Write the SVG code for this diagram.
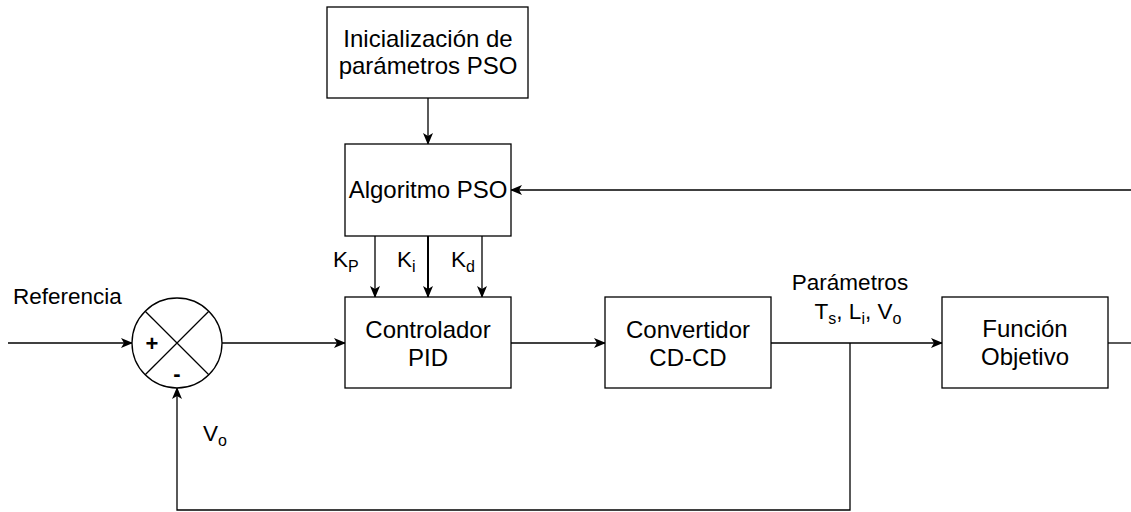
<svg xmlns="http://www.w3.org/2000/svg" width="1131" height="512" viewBox="0 0 1131 512">
<style>
.box{fill:#fff;stroke:#000;stroke-width:1.3}
.ln{fill:none;stroke:#000;stroke-width:1.3}
.t{font-family:"Liberation Sans",Arial,Helvetica,sans-serif;font-size:24px;fill:#000;text-anchor:middle}
.s{font-family:"Liberation Sans",Arial,Helvetica,sans-serif;font-size:22.5px;fill:#000}
.sub{font-size:16px}
</style>
<defs>
<marker id="arr" viewBox="0 0 12 10" refX="11" refY="5" markerWidth="12" markerHeight="10" markerUnits="userSpaceOnUse" orient="auto">
<path d="M0,0 L12,5 L0,10 L3,5 Z" fill="#000"/>
</marker>
</defs>
<rect width="1131" height="512" fill="#fff"/>
<g id="connectors">
<path class="ln" d="M428,98 L428,144" marker-end="url(#arr)"/>
<path class="ln" d="M375,236 L375,297" marker-end="url(#arr)"/>
<path class="ln" style="stroke-width:2" d="M428,236 L428,297" marker-end="url(#arr)"/>
<path class="ln" d="M482,236 L482,297" marker-end="url(#arr)"/>
<path class="ln" d="M8,343 L132,343" marker-end="url(#arr)"/>
<path class="ln" d="M222,343 L345,343" marker-end="url(#arr)"/>
<path class="ln" d="M511,343 L605,343" marker-end="url(#arr)"/>
<path class="ln" d="M771,343 L942,343" marker-end="url(#arr)"/>
<path class="ln" d="M850,343 L850,510 L177,510 L177,388" marker-end="url(#arr)"/>
<path class="ln" d="M1108,343 L1131,343"/>
<path class="ln" d="M1131,190 L511,190" marker-end="url(#arr)"/>
</g>
<g id="init">
<rect class="box" x="327" y="7" width="201" height="91"/>
<text class="t" x="428" y="47">Inicialización de</text>
<text class="t" x="428" y="74">parámetros PSO</text>
</g>
<g id="pso">
<rect class="box" x="345" y="144" width="166" height="92"/>
<text class="t" x="428" y="198">Algoritmo PSO</text>
</g>
<g id="pid">
<rect class="box" x="345" y="297" width="166" height="91"/>
<text class="t" x="428" y="338">Controlador</text>
<text class="t" x="428" y="366">PID</text>
</g>
<g id="conv">
<rect class="box" x="605" y="297" width="166" height="91"/>
<text class="t" x="688" y="338">Convertidor</text>
<text class="t" x="688" y="366">CD-CD</text>
</g>
<g id="fobj">
<rect class="box" x="942" y="297" width="166" height="91"/>
<text class="t" x="1025" y="337">Función</text>
<text class="t" x="1025" y="365">Objetivo</text>
</g>
<g id="sum">
<circle class="box" cx="177" cy="343" r="45"/>
<path class="ln" d="M145.2,311.2 L208.8,374.8 M208.8,311.2 L145.2,374.8"/>
<text class="t" x="152" y="351" style="font-weight:bold;font-size:22px">+</text>
<text class="t" x="177" y="381" style="font-weight:bold;font-size:22px">-</text>
</g>
<g id="labels">
<text class="s" x="13" y="304">Referencia</text>
<text class="s" x="333" y="267">K<tspan class="sub" dy="5">P</tspan></text>
<text class="s" x="397" y="267">K<tspan class="sub" dy="5">i</tspan></text>
<text class="s" x="451" y="267">K<tspan class="sub" dy="5">d</tspan></text>
<text class="s" x="203" y="441">V<tspan class="sub" dy="5">o</tspan></text>
<text class="s" x="850" y="290" style="text-anchor:middle">Parámetros</text>
<text class="s" x="858" y="319" style="text-anchor:middle">T<tspan class="sub" dy="5">s</tspan><tspan dy="-5">, L</tspan><tspan class="sub" dy="5">i</tspan><tspan dy="-5">, V</tspan><tspan class="sub" dy="5">o</tspan></text>
</g>
</svg>
